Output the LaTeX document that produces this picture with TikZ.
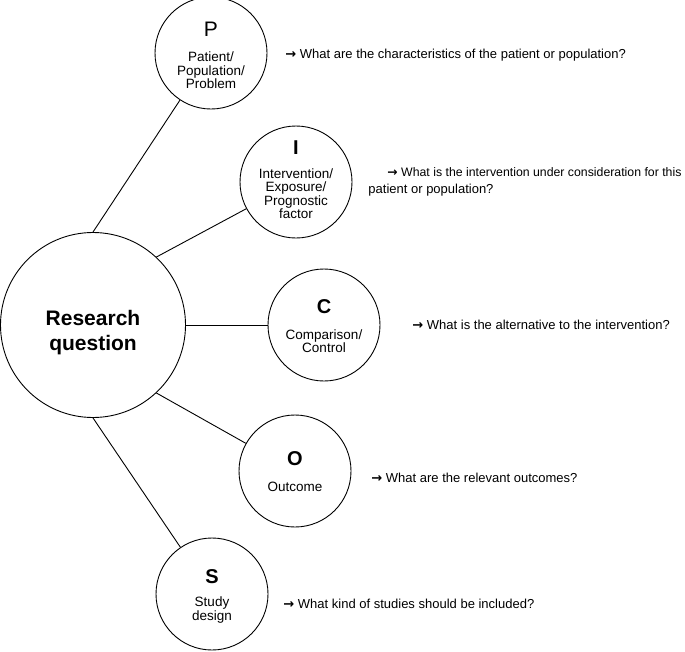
\documentclass[tikz,border=0pt]{standalone}
\usepackage{fontspec}
\setmainfont{Liberation Sans}
\newfontfamily\arrowfont{DejaVu Sans}
\newcommand{\qarrow}{{\arrowfont\bfseries →}}
\begin{document}
\begin{tikzpicture}[x=1pt, y=-1pt, line width=0.9pt,
    topic/.style={circle, draw, minimum size=112pt, inner sep=0pt},
    letter/.style={font=\fontsize{20}{20}\selectfont\bfseries, inner sep=0pt},
    sub/.style={font=\fontsize{13.5}{13.5}\selectfont, align=center, inner sep=0pt},
    ask/.style={font=\fontsize{13}{17}\selectfont, anchor=west, align=left, inner sep=0pt}]
    \useasboundingbox (0,0) rectangle (685,651);

    % Central circle
    \node[circle, draw, minimum size=185pt, inner sep=0pt] (rq) at (93,325) {};
    \node[align=center, inner sep=0pt, font=\fontsize{21}{25}\selectfont\bfseries]
        (rqt) at ([yshift=-8pt]rq.center) {Research\\question};

    % PICOS circles
    \node[topic] (p) at (211,53) {};
    \node[topic] (i) at (296,182) {};
    \node[topic] (c) at (324,325) {};
    \node[topic] (o) at (295,471) {};
    \node[topic] (s) at (212,594) {};

    % Edges
    \draw (rq.90) -- (p);
    \draw (rq.47) -- (i);
    \draw (rq.east) -- (c);
    \draw (rq.-47) -- (o);
    \draw (rq.-90) -- (s);

    % Letters and words inside the circles
    \node[letter, font=\fontsize{21}{21}\selectfont] (pl) at ([yshift=24pt]p.center) {P};
    \node[sub] (pt) at ([yshift=-17.5pt]p.center) {Patient/\\Population/\\Problem};
    \node[letter] (il) at ([yshift=34pt]i.center) {I};
    \node[sub] (it) at ([yshift=-11.5pt]i.center) {Intervention/\\Exposure/\\Prognostic\\factor};
    \node[letter] (cl) at ([yshift=18pt]c.center) {C};
    \node[sub] (ct) at ([yshift=-16pt]c.center) {Comparison/\\Control};
    \node[letter] (ol) at ([yshift=12pt]o.center) {O};
    \node[sub] (ot) at ([yshift=-16pt]o.center) {Outcome};
    \node[letter] (sl) at ([yshift=17pt]s.center) {S};
    \node[sub] (st) at ([yshift=-16pt]s.center) {Study\\design};

    % Questions
    \node[ask] (pq) at (285,55) {\qarrow{} What are the characteristics of the patient or population?};
    \node[ask] (iq) at (368,181.5) {\hspace*{19pt}{\fontsize{12.3}{17}\selectfont\qarrow{} What is the intervention under consideration for this}\\patient or population?};
    \node[ask] (cq) at (412,325) {\qarrow{} What is the alternative to the intervention?};
    \node[ask] (oq) at (371,478) {\qarrow{} What are the relevant outcomes?};
    \node[ask] (sq) at (283,604) {\qarrow{} What kind of studies should be included?};
\end{tikzpicture}
\end{document}
